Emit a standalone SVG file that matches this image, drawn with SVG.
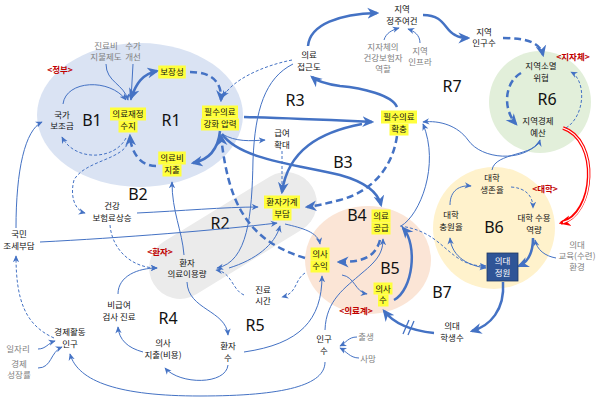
<svg xmlns="http://www.w3.org/2000/svg" width="600" height="402" viewBox="0 0 600 402">
<defs>
<style>
text{font-family:"Noto Sans CJK KR","Noto Sans",sans-serif;font-size:8.5px;fill:#111;text-anchor:middle}
.gr{fill:#808080}
.rd{fill:#C00000;font-weight:bold}
.lp{font-family:"Noto Sans","Noto Sans CJK KR",sans-serif;font-size:16px}
.wt{fill:#fff}
.hl{fill:#FFFF3C}
.t{fill:none;stroke:#4472C4;stroke-width:1;marker-end:url(#a)}
.td{fill:none;stroke:#4472C4;stroke-width:1;stroke-dasharray:3 2;marker-end:url(#a)}
.k{fill:none;stroke:#4472C4;stroke-width:2.5;marker-end:url(#A)}
.kd{fill:none;stroke:#4472C4;stroke-width:2.5;stroke-dasharray:7 4;marker-end:url(#A)}
</style>
<marker id="a" viewBox="0 0 10 10" refX="9" refY="5" markerWidth="7" markerHeight="7" orient="auto-start-reverse" markerUnits="userSpaceOnUse"><path d="M0,0.5 L10,5 L0,9.5 L3,5 z" fill="#4472C4"/></marker>
<marker id="A" viewBox="0 0 10 10" refX="8" refY="5" markerWidth="12" markerHeight="12" orient="auto-start-reverse" markerUnits="userSpaceOnUse"><path d="M0,0.5 L10,5 L0,9.5 L3,5 z" fill="#4472C4"/></marker>
<marker id="r" viewBox="0 0 10 10" refX="8" refY="5" markerWidth="12" markerHeight="12" orient="auto" markerUnits="userSpaceOnUse"><path d="M0,0.5 L10,5 L0,9.5 L3,5 z" fill="#FF0000"/></marker>
</defs>
<rect width="600" height="402" fill="#fff"/>
<g id="regions">
<ellipse cx="140" cy="115" rx="103" ry="72" fill="#DAE3F3"/>
<rect x="-93" y="-31" width="186" height="62" rx="31" transform="translate(233,235.5) rotate(-31.5)" fill="#EBEBEB"/>
<ellipse cx="368" cy="260" rx="63" ry="54" fill="#FBE5D6"/>
<circle cx="494" cy="228" r="61" fill="#FFF2CC"/>
<circle cx="540" cy="102" r="51" fill="#E2EFDA"/>
</g>
<g id="loops" class="loops">
<text class="lp" x="92" y="126">B1</text>
<text class="lp" x="171" y="126">R1</text>
<text class="lp" x="138" y="200">B2</text>
<text class="lp" x="295" y="106">R3</text>
<text class="lp" x="343" y="168">B3</text>
<text class="lp" x="452" y="92">R7</text>
<text class="lp" x="547" y="105">R6</text>
<text class="lp" x="220" y="229">R2</text>
<text class="lp" x="357" y="221">B4</text>
<text class="lp" x="390" y="274">B5</text>
<text class="lp" x="494" y="233">B6</text>
<text class="lp" x="442" y="298">B7</text>
<text class="lp" x="168" y="324">R4</text>
<text class="lp" x="255" y="331">R5</text>
</g>
<g id="connectors">
<path class="t" d="M106,64 C106,82 124,84 128,100"/>
<path class="t" d="M133,64 L131,100"/>
<path class="k" style="marker-start:url(#A)" d="M131,98 C136,84 142,74 157,71"/>
<path class="kd" d="M190,72 C212,72 222,82 221,100"/>
<path class="k" d="M220,131 C218,150 208,160 193,163"/>
<path class="kd" d="M156,166 C140,166 131,152 130,136"/>
<path class="t" d="M63,104 C66,80 110,78 126,100"/>
<path class="td" d="M126,138 C115,160 75,162 62,137"/>
<path class="td" d="M129,140 C125,160 85,160 74,180 C70,195 74,210 85,213"/>
<path class="t" d="M16,228 C16,170 25,130 42,122"/>
<path class="td" d="M54,338 C25,325 16,300 16,256"/>
<path class="t" d="M38,349 C46,349 48,343 55,341"/>
<path class="t" d="M38,368 C52,368 50,352 62,347"/>
<path class="t" d="M137,213 C180,211 225,207 258,207"/>
<path class="t" d="M40,242 C120,238 220,230 277,223"/>
<path class="td" d="M110,225 C112,250 132,268 157,268"/>
<path class="t" d="M184,255 C182,230 172,212 172,182"/>
<path class="t" d="M187,282 C188,310 226,310 228,335"/>
<path class="t" d="M143,352 C128,348 119,340 118,327"/>
<path class="t" d="M118,294 C118,276 138,268 157,268"/>
<path class="t" d="M228,365 C226,385 180,385 165,368"/>
<path class="t" d="M244,352 C300,344 322,320 322,276"/>
<path class="t" d="M325,362 C325,385 285,396 200,396 C120,396 78,382 70,354"/>
<path class="t" d="M325,330 C326,300 345,288 362,273 C378,260 383,252 383,239"/>
<path class="t" d="M342,275 C355,277 355,292 367,294"/>
<path class="td" d="M305,273 C294,280 298,293 282,297"/>
<path class="td" d="M244,295 C232,290 232,272 216,270"/>
<path class="t" d="M293,64 C265,78 255,110 253,160 C252,215 248,262 217,268"/>
<path class="t" d="M229,268 C255,260 275,245 280,226"/>
<path class="t" d="M285,224 C302,228 318,232 320,244"/>
<path class="kd" d="M380,240 C375,258 362,262 339,262"/>
<path class="k" d="M222,134 C240,160 300,165 340,175 C365,182 378,192 381,205"/>
<path class="t" d="M222,134 C236,142 250,141 265,140"/>
<path class="td" style="marker-end:none" d="M282,151 L282,184"/>
<path class="k" d="M244,117 C290,118 330,120 372,122"/>
<path class="k" d="M362,124 C320,132 288,150 282,192"/>
<path class="kd" d="M397,136 C392,170 370,192 340,200 C325,204 315,206 307,207"/>
<path class="k" d="M397,107 C392,95 362,88 340,86 C326,84 318,82 312,77"/>
<path class="k" d="M308,46 C310,24 340,14 377,13"/>
<path class="k" d="M423,15 C445,15 444,30 455,35 C460,38 464,38 468,38"/>
<path class="t" d="M384,40 C386,33 392,30 399,28"/>
<path class="t" d="M420,43 C420,35 414,31 408,29"/>
<path class="kd" d="M503,38 C525,38 540,42 543,55"/>
<path class="kd" d="M521,73 C505,82 502,108 516,124"/>
<path class="td" d="M566,128 C586,115 586,80 571,72"/>
<path d="M563,128 C600,140 595,215 561,223" fill="none" stroke="#FF0000" stroke-width="3.5" marker-end="url(#r)"/>
<path d="M563,128 C600,140 595,215 563,222.5" fill="none" stroke="#fff" stroke-width="1.3"/>
<path class="t" d="M492,170 C495,152 536,156 540,140"/>
<path class="t" d="M538,143 C522,162 482,160 468,140 C458,126 440,120 423,122"/>
<path class="t" d="M401,226 C420,215 440,165 423,124"/>
<path class="td" d="M400,226 C430,230 440,245 455,256 C466,264 474,266 486,266"/>
<path class="t" style="marker-start:url(#a)" d="M450,238 C452,258 470,266 486,268"/>
<path class="t" d="M450,205 C450,190 460,185 471,186"/>
<path class="td" d="M511,187 C526,188 533,196 533,208"/>
<path class="k" d="M533,238 C533,254 528,262 519,266"/>
<path class="t" d="M556,258 C545,256 537,250 535,240"/>
<path class="k" d="M503,282 C505,310 490,326 472,331"/>
<path class="k" d="M434,333 C415,331 395,325 384,311"/>
<path d="M403,334 L409,320 M408,335 L414,321" stroke="#4472C4" stroke-width="1.3" fill="none"/>
<path class="k" d="M394,300 C413,290 418,245 403,228"/>
<path class="kd" d="M305,258 C245,240 228,200 221,136"/>
<path class="td" d="M292,60 C262,66 232,80 223,97"/>
<path class="t" d="M357,337 C348,337 346,343 340,346"/>
<path class="t" d="M359,358 C350,358 346,351 340,348"/>
</g>
<g id="n_gov_label"><text class="rd" x="60" y="73">&lt;정부&gt;</text></g>
<g id="n_payment"><text class="gr" x="106" y="49">진료비</text><text class="gr" x="106" y="60">지불제도</text></g>
<g id="n_fee"><text class="gr" x="133" y="49">수가</text><text class="gr" x="133" y="60">개선</text></g>
<g id="n_coverage"><rect class="hl" x="158.25" y="65.5" width="27.5" height="13"/><text x="172" y="75">보장성</text></g>
<g id="n_subsidy"><text x="62" y="118">국가</text><text x="62" y="129">보조금</text></g>
<g id="n_finance"><rect class="hl" x="110" y="107.5" width="36" height="13"/><rect class="hl" x="118.5" y="120.5" width="19" height="12"/><text x="128" y="117">의료재정</text><text x="128" y="129">수지</text></g>
<g id="n_expense"><rect class="hl" x="158.25" y="151.5" width="27.5" height="13"/><rect class="hl" x="162.5" y="164.5" width="19" height="12"/><text x="172" y="161">의료비</text><text x="172" y="173">지출</text></g>
<g id="n_pressure"><rect class="hl" x="202" y="105.5" width="36" height="13"/><rect class="hl" x="201" y="118.5" width="38" height="12"/><text x="220" y="115">필수의료</text><text x="220" y="127">강화 압력</text></g>
<g id="n_premium"><text x="112" y="209">건강</text><text x="112" y="221">보험료상승</text></g>
<g id="n_tax"><text x="19" y="237">국민</text><text x="19" y="249">조세부담</text></g>
<g id="n_patient_label"><text class="rd" x="160" y="255">&lt;환자&gt;</text></g>
<g id="n_usage"><text x="187" y="266">환자</text><text x="187" y="277">의료이용량</text></g>
<g id="n_nonpay"><text x="119" y="308">비급여</text><text x="119" y="320">검사 진료</text></g>
<g id="n_docexp"><text x="163" y="346">의사</text><text x="163" y="358">지출(비용)</text></g>
<g id="n_workpop"><text x="70" y="335">경제활동</text><text x="70" y="347">인구</text></g>
<g id="n_jobs"><text class="gr" x="18" y="352">일자리</text></g>
<g id="n_growth"><text class="gr" x="19" y="367">경제</text><text class="gr" x="19" y="378">성장률</text></g>
<g id="n_patients"><text x="228" y="349">환자</text><text x="228" y="361">수</text></g>
<g id="n_time"><text x="263" y="293">진료</text><text x="263" y="304">시간</text></g>
<g id="n_benefit"><text x="282" y="136">급여</text><text x="282" y="148">확대</text></g>
<g id="n_access"><text x="309" y="58">의료</text><text x="309" y="70">접근도</text></g>
<g id="n_burden"><rect class="hl" x="264" y="195.5" width="36" height="13"/><rect class="hl" x="272.5" y="208.5" width="19" height="12"/><text x="282" y="205">환자가계</text><text x="282" y="217">부담</text></g>
<g id="n_expand"><rect class="hl" x="381" y="110.5" width="36" height="13"/><rect class="hl" x="389.5" y="123.5" width="19" height="12"/><text x="399" y="120">필수의료</text><text x="399" y="132">확충</text></g>
<g id="n_settle"><text x="402" y="12">지역</text><text x="402" y="24">정주여건</text></g>
<g id="n_insurer"><text class="gr" x="383" y="50">지자체의</text><text class="gr" x="383" y="61">건강보험자</text><text class="gr" x="383" y="72">역할</text></g>
<g id="n_infra"><text class="gr" x="420" y="54">지역</text><text class="gr" x="420" y="65">인프라</text></g>
<g id="n_localpop"><text x="484" y="35">지역</text><text x="484" y="46">인구수</text></g>
<g id="n_local_label"><text class="rd" x="573" y="60">&lt;지자체&gt;</text></g>
<g id="n_extinct"><text x="541" y="69">지역소멸</text><text x="541" y="81">위협</text></g>
<g id="n_budget"><text x="538" y="124">지역경제</text><text x="538" y="136">예산</text></g>
<g id="n_survival"><text x="492" y="181">대학</text><text x="492" y="193">생존율</text></g>
<g id="n_univ_label"><text class="rd" x="545" y="192">&lt;대학&gt;</text></g>
<g id="n_fill"><text x="451" y="218">대학</text><text x="451" y="230">충원율</text></g>
<g id="n_capacity"><text x="534" y="221">대학 수용</text><text x="534" y="233">역량</text></g>
<g id="n_quota"><rect x="487" y="253" width="31" height="28" fill="#2F5597" stroke="#1F3864" stroke-width="0.8"/><text class="wt" x="502.5" y="264">의대</text><text class="wt" x="502.5" y="276">정원</text></g>
<g id="n_eduenv"><text class="gr" x="577" y="248">의대</text><text class="gr" x="577" y="259">교육(수련)</text><text class="gr" x="577" y="270">환경</text></g>
<g id="n_students"><text x="452" y="329">의대</text><text x="452" y="341">학생수</text></g>
<g id="n_supply"><rect class="hl" x="371.5" y="209.5" width="19" height="13"/><rect class="hl" x="371.5" y="222.5" width="19" height="12"/><text x="381" y="219">의료</text><text x="381" y="231">공급</text></g>
<g id="n_income"><rect class="hl" x="310.5" y="247.5" width="19" height="13"/><rect class="hl" x="310.5" y="260.5" width="19" height="12"/><text x="320" y="257">의사</text><text x="320" y="269">수익</text></g>
<g id="n_doctors"><rect class="hl" x="373.5" y="282.5" width="19" height="12"/><rect class="hl" x="378" y="294.5" width="10.5" height="12"/><text x="383" y="292">의사</text><text x="383" y="303">수</text></g>
<g id="n_med_label"><text class="rd" x="356" y="314">&lt;의료계&gt;</text></g>
<g id="n_population"><text x="324" y="342">인구</text><text x="324" y="354">수</text></g>
<g id="n_birth"><text class="gr" x="366" y="340">출생</text></g>
<g id="n_death"><text class="gr" x="368" y="362">사망</text></g>
</svg>
